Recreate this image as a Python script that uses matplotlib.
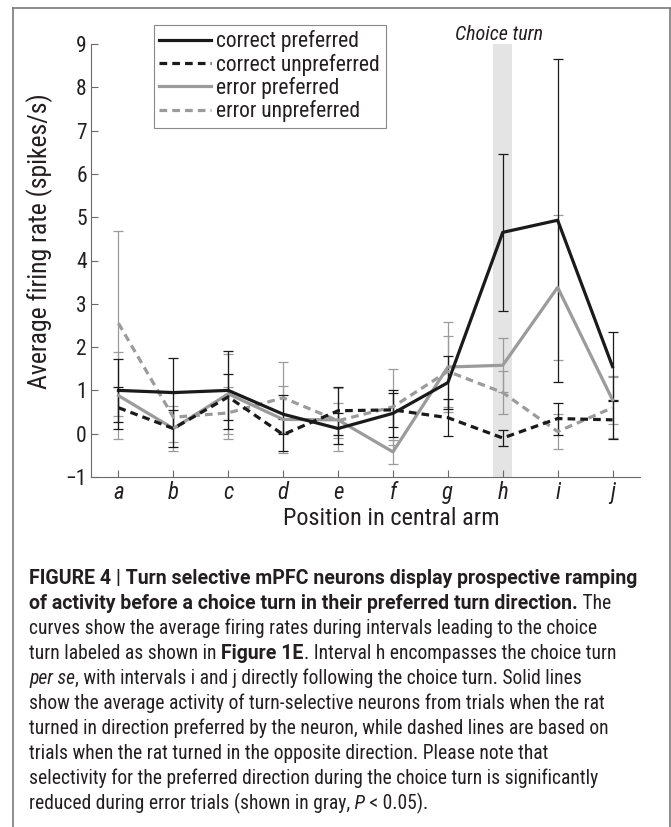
import matplotlib
matplotlib.use('Agg')
import matplotlib.pyplot as plt
from matplotlib import font_manager as fm
from matplotlib.lines import Line2D
import numpy as np

# data
positions = ['a', 'b', 'c', 'd', 'e', 'f', 'g', 'h', 'i', 'j']
choice_pos = 'h'

correct_pref = [1.0, 0.95, 1.0, 0.45, 0.12, 0.47, 1.18, 4.65, 4.93, 1.55]
correct_pref_err = [0.73, 0.8, 0.9, 0.45, 0.36, 0.55, 0.62, 1.82, 3.73, 0.79]
correct_unpref = [0.6, 0.12, 0.85, -0.02, 0.53, 0.55, 0.37, -0.1, 0.35, 0.32]
correct_unpref_err = [0.48, 0.42, 0.53, 0.37, 0.55, 0.4, 0.43, 0.19, 0.37, 0.45]
error_pref = [0.88, 0.12, 0.92, 0.33, 0.32, -0.42, 1.54, 1.58, 3.38, 0.78]
error_pref_err = [1.0, 0.53, 0.93, 0.78, 0.73, 0.27, 1.03, 0.62, 1.67, 0.55]
error_unpref = [2.55, 0.38, 0.48, 0.83, 0.3, 0.62, 1.44, 0.95, 0.05, 0.6]
error_unpref_err = [2.13, 0.57, 0.6, 0.82, 0.4, 0.87, 0.82, 0.5, 0.4, 0.7]

caption_lines = [
    [("FIGURE 4 | Turn selective mPFC neurons display prospective ramping", 'b')],
    [("of activity before a choice turn in their preferred turn direction.", 'b'), (" The", 'n')],
    [("curves show the average firing rates during intervals leading to the choice", 'n')],
    [("turn labeled as shown in", 'n'), (" Figure 1E", 'b'), (". Interval h encompasses the choice turn", 'n')],
    [("per se", 'i'), (", with intervals i and j directly following the choice turn. Solid lines", 'n')],
    [("show the average activity of turn-selective neurons from trials when the rat", 'n')],
    [("turned in direction preferred by the neuron, while dashed lines are based on", 'n')],
    [("trials when the rat turned in the opposite direction. Please note that", 'n')],
    [("selectivity for the preferred direction during the choice turn is significantly", 'n')],
    [("reduced during error trials (shown in gray,", 'n'), (" P", 'i'), (" < 0.05).", 'n')],
]

avail = {f.name for f in fm.fontManager.ttflist}


def pick(cands):
    for c in cands:
        if c in avail:
            return c
    return 'DejaVu Sans'


chart_font = pick(['Roboto Condensed', 'Open Sans Condensed', 'Liberation Sans Narrow', 'Lato'])
cap_font = pick(['Liberation Sans Narrow', 'Roboto Condensed', 'Liberation Sans'])
bold_font = pick(['Roboto', 'Liberation Sans'])
plt.rcParams['font.family'] = [chart_font, 'DejaVu Sans']

W, H = 671, 827
fig = plt.figure(figsize=(W / 100, H / 100), dpi=100)
ax = fig.add_axes([91 / W, 1 - 477 / H, (640 - 91) / W, (477 - 44) / H])

black = '#1a1a1a'
gray = '#9b9b9b'
txtc = '#231f20'
x = np.arange(1, len(positions) + 1)

hx = x[positions.index(choice_pos)]
ax.axvspan(hx - 0.18, hx + 0.17, color='#e4e4e4', lw=0, zorder=0)

series = [
    (error_unpref, error_unpref_err, gray, (0, (2.4, 1.6)), 'error unpreferred'),
    (error_pref, error_pref_err, gray, '-', 'error preferred'),
    (correct_unpref, correct_unpref_err, black, (0, (2.4, 1.6)), 'correct unpreferred'),
    (correct_pref, correct_pref_err, black, '-', 'correct preferred'),
]
handles = {}
for i, (vals, errs, col, ls, lab) in enumerate(series):
    ax.errorbar(x, vals, yerr=errs, fmt='none', ecolor=col, elinewidth=0.9,
                capsize=3.6, capthick=0.9, zorder=2 + i)
    ln, = ax.plot(x, vals, color=col, lw=2.3, ls=ls, label=lab, zorder=6 + i)
    handles[lab] = ln

ax.set_xlim(0.5, 10.5)
ax.set_ylim(-1, 9)
ax.set_yticks(np.arange(-1, 10))
ax.set_xticks(x)
ax.set_xticklabels(positions, style='italic', fontsize=16.5)
for s in ['top', 'right']:
    ax.spines[s].set_visible(False)
for s in ['left', 'bottom']:
    ax.spines[s].set_color('#6a6a6a')
    ax.spines[s].set_linewidth(0.8)
ax.tick_params(direction='in', length=5, width=0.8, color='#6a6a6a',
               labelcolor=txtc, pad=3)
ax.tick_params(axis='y', labelsize=15.5)

ax.set_xlabel('Position in central arm', fontsize=17.5, color=txtc, va='top')
ax.xaxis.set_label_coords((391 - 91) / 549, -0.07)
ax.set_ylabel('Average firing rate (spikes/s)', fontsize=18.5, color=txtc)
ax.yaxis.set_label_coords(-0.07, 0.545)

ax.text(hx - 0.07, 9.1, 'Choice turn', style='italic', fontsize=14.5,
        ha='center', va='baseline', color=txtc)

order = ['correct preferred', 'correct unpreferred', 'error preferred', 'error unpreferred']
leg = fig.legend([handles[k] for k in order], order, loc='upper left',
                 bbox_to_anchor=(154 / W, 1 - 25 / H), fontsize=15.5,
                 frameon=True, fancybox=False, edgecolor='#6a6a6a',
                 handlelength=2.4, handletextpad=0.25, labelspacing=0.06,
                 borderpad=0.25, borderaxespad=0)
leg.get_frame().set_linewidth(0.8)
for t in leg.get_texts():
    t.set_color(txtc)

# caption
renderer = fig.canvas.get_renderer()
cap_size = 14.05
for i, line in enumerate(caption_lines):
    xpx = 29
    ypx = 584 + 25 * i
    for txt, st in line:
        kw = {'family': cap_font}
        if st == 'b':
            kw = {'family': bold_font, 'weight': 'bold'}
        elif st == 'i':
            kw['style'] = 'italic'
        t = fig.text(xpx / W, 1 - ypx / H, txt, fontsize=cap_size,
                     ha='left', va='baseline', color=txtc, **kw)
        xpx += t.get_window_extent(renderer).width

# frame around the figure panel
fc = '#7a7a7a'
fig.add_artist(Line2D([13 / W, 669.5 / W], [1 - 8 / H, 1 - 8 / H], color=fc, lw=1.2))
fig.add_artist(Line2D([13 / W, 13 / W], [1 - 8 / H, 0], color=fc, lw=1.2))
fig.add_artist(Line2D([669.5 / W, 669.5 / W], [1 - 8 / H, 0], color=fc, lw=1.2))

fig.savefig('out.png', dpi=100)
